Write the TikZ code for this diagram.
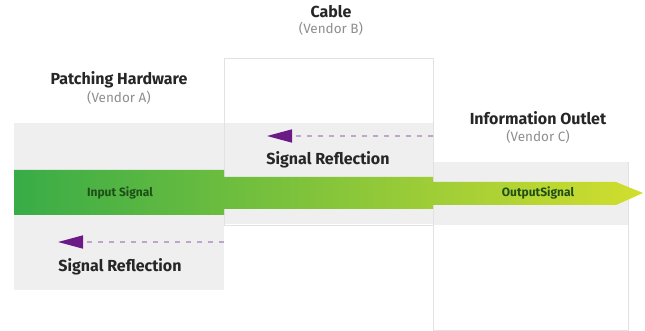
\documentclass[tikz,border=0pt]{standalone}
\usepackage{fontspec}
\setmainfont{Fira Sans}
\usetikzlibrary{arrows.meta}

\definecolor{panelgray}{HTML}{EFEFF0}
\definecolor{edgegray}{HTML}{E2E2E4}
\definecolor{vendorgray}{HTML}{8E8E90}
\definecolor{reflpurple}{HTML}{6A1B86}
\definecolor{dashpurple}{HTML}{BCA8C6}
\definecolor{sigdark}{HTML}{1F4E18}
\definecolor{sigleft}{HTML}{38AC47}
\definecolor{sigmid}{HTML}{74C03C}
\definecolor{sigright}{HTML}{D2DE2E}

\tikzset{
  title/.style={font=\bfseries\fontsize{16}{17}\selectfont, text=black!85, inner sep=0pt},
  vendor/.style={font=\fontsize{13.5}{15}\selectfont, text=vendorgray, inner sep=0pt},
  sigtext/.style={font=\bfseries\fontsize{12}{13}\selectfont, text=sigdark, inner sep=0pt},
  refltext/.style={font=\bfseries\fontsize{16}{17}\selectfont, text=black!85, inner sep=0pt},
  refl/.style={dashpurple, line width=1.6pt, dash pattern=on 5pt off 6pt,
    -{Triangle[length=25pt,width=13pt,color=reflpurple]}}
}

\begin{document}
\begin{tikzpicture} [x=1pt, y=-1pt]
\useasboundingbox (0,0) rectangle (645,331);

% panels
\fill[panelgray] (14,123) rectangle (224,290);
\draw[edgegray, fill=white] (224,58) rectangle (433,225);
\fill[panelgray] (224.5,123) rectangle (432.5,224.5);
\draw[edgegray, fill=white] (433,162) rectangle (628,330);
\fill[panelgray] (433.5,162.5) rectangle (627.5,225);

% signal band
\shade[left color=sigleft, middle color=sigmid, right color=sigright]
  (14,170) -- (224,170) -- (224,177) -- (433,177) -- (433,182) -- (616,182) -- (643,193)
  -- (616,205) -- (433,205) -- (433,209) -- (224,209) -- (224,215) -- (14,215) -- cycle;

% labels
\node[title] (cable) at (331,12) {Cable};
\node[vendor] (vendB) at (331,29) {(Vendor B)};
\node[title] (patch) at (119,80) {Patching Hardware};
\node[vendor] (vendA) at (119,98) {(Vendor A)};
\node[title] (outlet) at (538,118) {Information Outlet};
\node[vendor] (vendC) at (538,137) {(Vendor C)};

\node[sigtext] (insig) at (120,193) {Input Signal};
\node[sigtext] (outsig) at (538,193) {OutputSignal};

\node[refltext] (reflB) at (328,160) {Signal Reflection};
\node[refltext] (reflA) at (120,267) {Signal Reflection};

% reflections
\coordinate (rBs) at (433,136);
\coordinate (rBe) at (267,136);
\coordinate (rAs) at (224,242);
\coordinate (rAe) at (58,242);
\draw[refl] (rBs) -- (rBe);
\draw[refl] (rAs) -- (rAe);

\end{tikzpicture}
\end{document}
